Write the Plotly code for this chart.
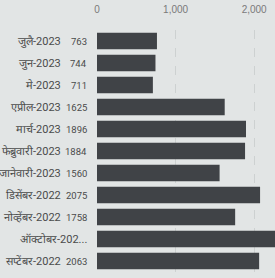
import plotly.graph_objects as go

# Top-to-bottom order as in the reference
months = ["जुलै-2023", "जुन-2023", "मे-2023", "एप्रील-2023", "मार्च-2023", "फेब्रुवारी-2023",
          "जानेवारी-2023", "डिसेंबर-2022", "नोव्हेंबर-2022", "ऑक्टोबर-2022", "सप्टेंबर-2022"]
values = [763, 744, 711, 1625, 1896, 1884, 1560, 2075, 1758, 2400, 2063]
# label text shown at the left (October label is truncated in the source)
name_labels = ["जुलै-2023", "जुन-2023", "मे-2023", "एप्रील-2023", "मार्च-2023", "फेब्रुवारी-2023",
               "जानेवारी-2023", "डिसेंबर-2022", "नोव्हेंबर-2022", "ऑक्टोबर-202...", "सप्टेंबर-2022"]
value_labels = ["763", "744", "711", "1625", "1896", "1884", "1560", "2075", "1758", "", "2063"]
x_ticks = [0, 1000, 2000]

PLOT_LEFT = 97
PLOT_W = 275 - PLOT_LEFT

def px_to_paper(px):
    return (px - PLOT_LEFT) / PLOT_W

name_font = dict(family="Roboto", size=11, color="#4a4b4b")
value_font = dict(family="Roboto", size=9.5, color="#4a4b4b")

fig = go.Figure(go.Bar(
    x=values, y=months, orientation="h",
    marker=dict(color="#404347", line=dict(width=0)),
    width=0.75,
))

annotations = []
for m, nl, vl in zip(months, name_labels, value_labels):
    if vl:
        annotations.append(dict(x=px_to_paper(63), y=m, xref="paper", yref="y", text=nl,
                                showarrow=False, xanchor="right", yanchor="middle", font=name_font))
        annotations.append(dict(x=px_to_paper(89), y=m, xref="paper", yref="y", text=vl,
                                showarrow=False, xanchor="right", yanchor="middle", font=value_font))
    else:
        annotations.append(dict(x=px_to_paper(89), y=m, xref="paper", yref="y", text=nl,
                                showarrow=False, xanchor="right", yanchor="middle", font=name_font))

fig.update_layout(
    width=275, height=278,
    margin=dict(l=PLOT_LEFT, r=0, t=30, b=6, autoexpand=False),
    paper_bgcolor="#e2e5e5", plot_bgcolor="#e2e5e5",
    showlegend=False,
    annotations=annotations,
    xaxis=dict(side="top", range=[0, 2265], tickvals=x_ticks, tickformat=",",
               automargin=False, ticklabelstandoff=14,
               showgrid=True, gridcolor="#cdd1d1", griddash="dash", gridwidth=1,
               zeroline=False, showline=False, ticks="",
               tickfont=dict(family="Liberation Sans, Roboto", size=10, color="#7a7a7a")),
    yaxis=dict(autorange="reversed", showticklabels=False, showgrid=False,
               automargin=False,
               zeroline=False, showline=False, ticks=""),
    bargap=0.25,
)

fig.write_html("out.html", config={"displayModeBar": False},
               post_script="document.body.style.margin='0';document.body.style.background='#e2e5e5';")
